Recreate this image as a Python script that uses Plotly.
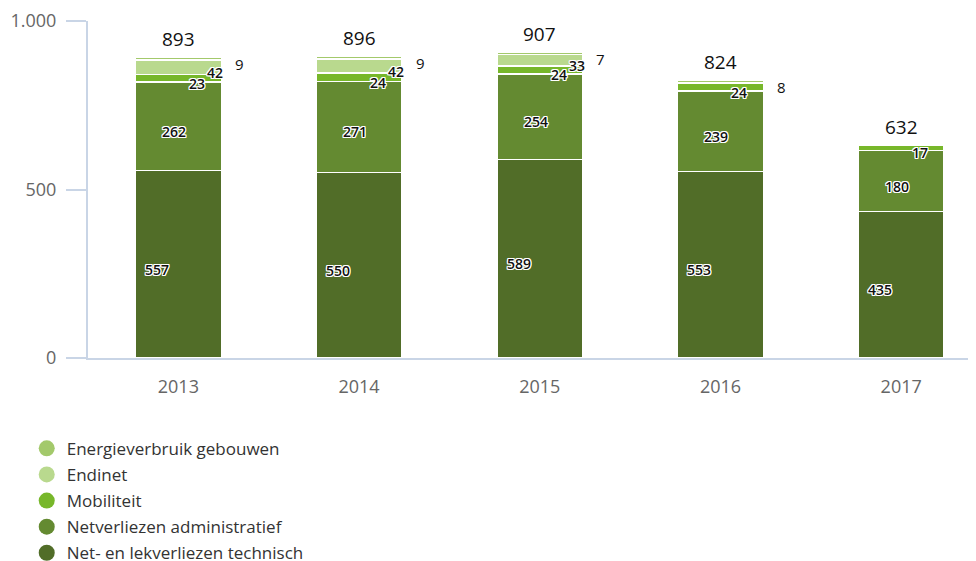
import plotly.graph_objects as go

years = ["2013", "2014", "2015", "2016", "2017"]
technisch = [557, 550, 589, 553, 435]
administratief = [262, 271, 254, 239, 180]
mobiliteit = [23, 24, 24, 24, 17]
endinet = [42, 42, 33, 0, 0]
gebouwen = [9, 9, 7, 8, 0]

# stack bottom -> top
series = [
    ("Net- en lekverliezen technisch", technisch, "#516d28", -21),
    ("Netverliezen administratief", administratief, "#648a31", -4),
    ("Mobiliteit", mobiliteit, "#77b72a", 19),
    ("Endinet", endinet, "#b9d98e", 37),
    ("Energieverbruik gebouwen", gebouwen, "#a3c96b", 61),
]

FONT = "'Open Sans', sans-serif"
AXIS = "#c9d5e6"
OUTLINE = ("white 1px 1px 0px, white -1px -1px 0px, white 1px -1px 0px, "
           "white -1px 1px 0px, white 0px 1px 0px, white 0px -1px 0px, "
           "white 1px 0px 0px, white -1px 0px 0px")

fig = go.Figure()

for name, vals, color, _ in series:
    fig.add_trace(go.Bar(
        x=years, y=vals, name=name,
        marker=dict(color=color, line=dict(color="white", width=1.5)),
        showlegend=False, hoverinfo="skip",
    ))

# legend with round markers, top to bottom
for i, (name, vals, color, _) in enumerate(reversed(series)):
    fig.add_trace(go.Scatter(
        x=[years[0]], y=[None], mode="markers", name=name,
        legendgroup=str(i),
        marker=dict(color=color, size=16, symbol="circle"),
    ))

# segment labels (the top one sits outside the bar, plain)
base = [0] * len(years)
for k, (name, vals, color, dx) in enumerate(series):
    outside = k == len(series) - 1
    for j, v in enumerate(vals):
        if v:
            fig.add_annotation(
                x=j, y=base[j] + v / 2, text=str(v),
                showarrow=False, xshift=dx, yshift=-5,
                font=dict(size=15 if outside else 14, color="#111",
                          family=FONT, weight=400 if outside else 600,
                          shadow="none" if outside else OUTLINE),
            )
        base[j] += v

# totals above bars
for j, y in enumerate(years):
    fig.add_annotation(
        x=j, y=base[j], text=str(base[j]), showarrow=False, yshift=18,
        font=dict(size=19, color="#111", family=FONT),
    )

# page body has an 8px margin, so the figure is a bit smaller than the window
fig.update_layout(
    barmode="stack",
    bargap=0.524,
    width=968, height=553,
    margin=dict(l=80, r=0, t=13, b=203, autoexpand=False),
    plot_bgcolor="white", paper_bgcolor="white",
    font=dict(family=FONT, size=16, color="#666"),
    separators=",.",
    legend=dict(
        orientation="v", x=-0.069, xanchor="left", y=-0.216, yanchor="top",
        traceorder="grouped", tracegroupgap=1,
        font=dict(size=17, color="#333"),
        itemclick=False,
    ),
)
fig.update_xaxes(
    type="category", range=[-0.5, 4.414],
    showline=True, linecolor=AXIS, linewidth=2, showgrid=False,
    ticks="", tickfont=dict(size=18, color="#666"), ticklabelstandoff=11,
)
fig.update_yaxes(
    range=[0, 1000], tickvals=[0, 500, 1000], tickformat=",d",
    showline=True, linecolor=AXIS, linewidth=2, showgrid=False,
    ticks="outside", ticklen=20, tickcolor=AXIS, tickwidth=2,
    tickfont=dict(size=18, color="#666"), zeroline=False,
    ticklabelstandoff=6,
)

fig.write_html("out.html")
